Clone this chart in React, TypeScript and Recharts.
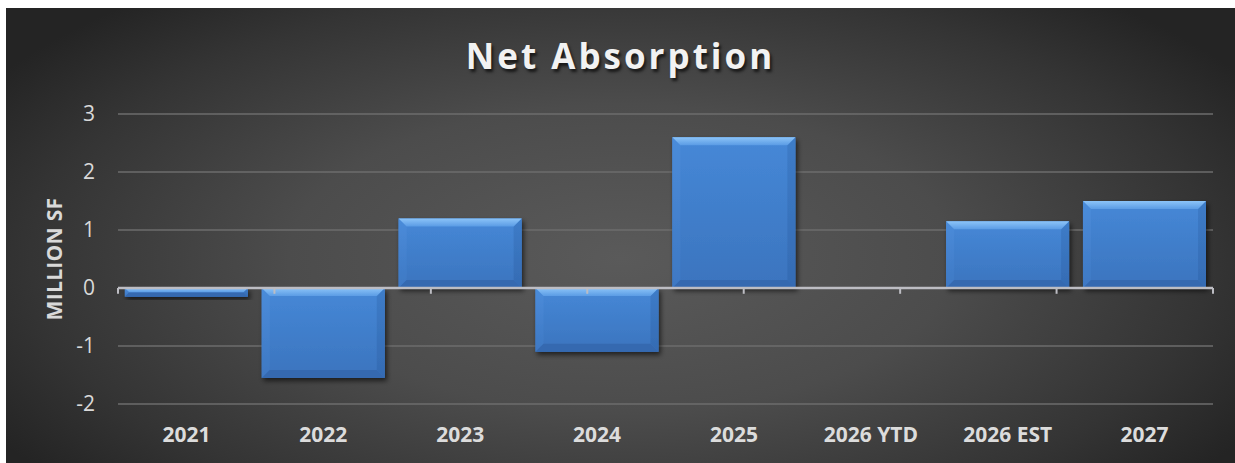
import React from 'react';
import { BarChart, Bar, XAxis, YAxis, CartesianGrid, ReferenceLine } from 'recharts';

// Net absorption by period, in million square feet
const categories = ['2021', '2022', '2023', '2024', '2025', '2026 YTD', '2026 EST', '2027'];
const netAbsorption = [-0.15, -1.55, 1.2, -1.1, 2.6, 0, 1.15, 1.5];
const yTicks = [-2, -1, 0, 1, 2, 3];

const data = categories.map((cat, i) => ({ cat, value: netAbsorption[i] }));
const boundaryTicks = categories.map((_, i) => i).concat(categories.length);

const FONT = '"Open Sans", "Noto Sans", sans-serif';
const W = 1229;
const H = 455;

// Bevelled bar: flat body with lighter top edge and softly shaded sides / bottom
const BevelBar = (props: any) => {
  const { x, width } = props;
  const y0 = Math.min(props.y, props.y + props.height);
  const h = Math.abs(props.height);
  if (!h || h < 1) return null;
  const w = width;
  const b = Math.min(8, h / 2, w / 2);
  return (
    <g filter="url(#barShadow)">
      <rect x={x} y={y0} width={w} height={h} fill="url(#barBody)" />
      {/* left side */}
      <polygon
        points={`${x},${y0} ${x + b},${y0 + b} ${x + b},${y0 + h - b} ${x},${y0 + h}`}
        fill="url(#barLeft)"
      />
      {/* right side */}
      <polygon
        points={`${x + w},${y0} ${x + w - b},${y0 + b} ${x + w - b},${y0 + h - b} ${x + w},${y0 + h}`}
        fill="url(#barRight)"
      />
      {/* bottom */}
      <polygon
        points={`${x},${y0 + h} ${x + b},${y0 + h - b} ${x + w - b},${y0 + h - b} ${x + w},${y0 + h}`}
        fill="#3569b0"
      />
      {/* top highlight */}
      <polygon
        points={`${x},${y0} ${x + w},${y0} ${x + w - b},${y0 + b} ${x + b},${y0 + b}`}
        fill="url(#barTop)"
      />
    </g>
  );
};

const YLabel = (props: any) => {
  const vb = props.viewBox || {};
  const cx = (vb.x || 0) + 48;
  const cy = (vb.y || 0) + (vb.height || 0) / 2;
  return (
    <text
      x={cx}
      y={cy}
      transform={`rotate(-90, ${cx}, ${cy})`}
      textAnchor="middle"
      dominantBaseline="central"
      fill="#d9d9d9"
      fontFamily={FONT}
      fontWeight={700}
      fontSize={21}
      letterSpacing={0.3}
    >
      MILLION SF
    </text>
  );
};

export default function App() {
  return (
    <div
      style={{
        position: 'absolute',
        left: 6,
        top: 8,
        width: W,
        height: H,
        background:
          'radial-gradient(ellipse 60% 75% at 50% 55%, #5a5a5a 0%, #4c4c4c 45%, #343434 80%, #242424 100%)',
        fontFamily: FONT,
      }}
    >
      <div
        style={{
          position: 'absolute',
          left: 0,
          width: W,
          top: 24,
          textAlign: 'center',
          color: '#f2f2f2',
          fontSize: 35,
          fontWeight: 700,
          letterSpacing: 3,
          lineHeight: '48px',
          textShadow: '2px 3px 3px rgba(0,0,0,0.65)',
        }}
      >
        Net Absorption
      </div>
      <BarChart
        width={W}
        height={H}
        data={data}
        margin={{ top: 106, right: 22, left: 0, bottom: 0 }}
        barCategoryGap="5%"
        style={{ position: 'absolute', left: 0, top: 0 }}
      >
        <defs>
          <linearGradient id="barBody" x1="0" y1="0" x2="0" y2="1">
            <stop offset="0%" stopColor="#4688d7" />
            <stop offset="100%" stopColor="#3b74be" />
          </linearGradient>
          <linearGradient id="barLeft" x1="0" y1="0" x2="0" y2="1">
            <stop offset="0%" stopColor="#4b8cda" />
            <stop offset="100%" stopColor="#3e78c3" />
          </linearGradient>
          <linearGradient id="barRight" x1="0" y1="0" x2="0" y2="1">
            <stop offset="0%" stopColor="#3d7cc8" />
            <stop offset="100%" stopColor="#356bb3" />
          </linearGradient>
          <linearGradient id="barTop" x1="0" y1="0" x2="0" y2="1">
            <stop offset="0%" stopColor="#8cc4f8" />
            <stop offset="100%" stopColor="#5b9ce5" />
          </linearGradient>
          <filter id="barShadow" x="-10%" y="-10%" width="130%" height="140%">
            <feDropShadow dx="2" dy="3" stdDeviation="2.5" floodColor="#000" floodOpacity="0.6" />
          </filter>
        </defs>
        <CartesianGrid vertical={false} stroke="#6c6c6c" strokeWidth={1.5} />
        <XAxis
          dataKey="cat"
          height={59}
          axisLine={false}
          tickLine={false}
          tickSize={0}
          tickMargin={23}
          interval={0}
          tick={{ fill: '#dcdcdc', fontSize: 21, fontWeight: 700, fontFamily: FONT }}
        />
        <XAxis xAxisId="edge" type="number" domain={[0, categories.length]} hide />
        <YAxis
          width={112}
          domain={[-2, 3]}
          ticks={yTicks}
          interval={0}
          axisLine={false}
          tickLine={false}
          tickSize={0}
          tickMargin={23}
          tick={{ fill: '#d9d9d9', fontSize: 21, fontFamily: FONT }}
          label={<YLabel />}
        />
        <Bar dataKey="value" shape={<BevelBar />} isAnimationActive={false} />
        <ReferenceLine y={0} stroke="#bdbdc3" strokeWidth={2.5} />
        {boundaryTicks.map((k) => (
          <ReferenceLine
            key={k}
            xAxisId="edge"
            segment={[
              { x: k, y: 0 },
              { x: k, y: -0.1 },
            ]}
            stroke="#bdbdc3"
            strokeWidth={2}
          />
        ))}
      </BarChart>
    </div>
  );
}
